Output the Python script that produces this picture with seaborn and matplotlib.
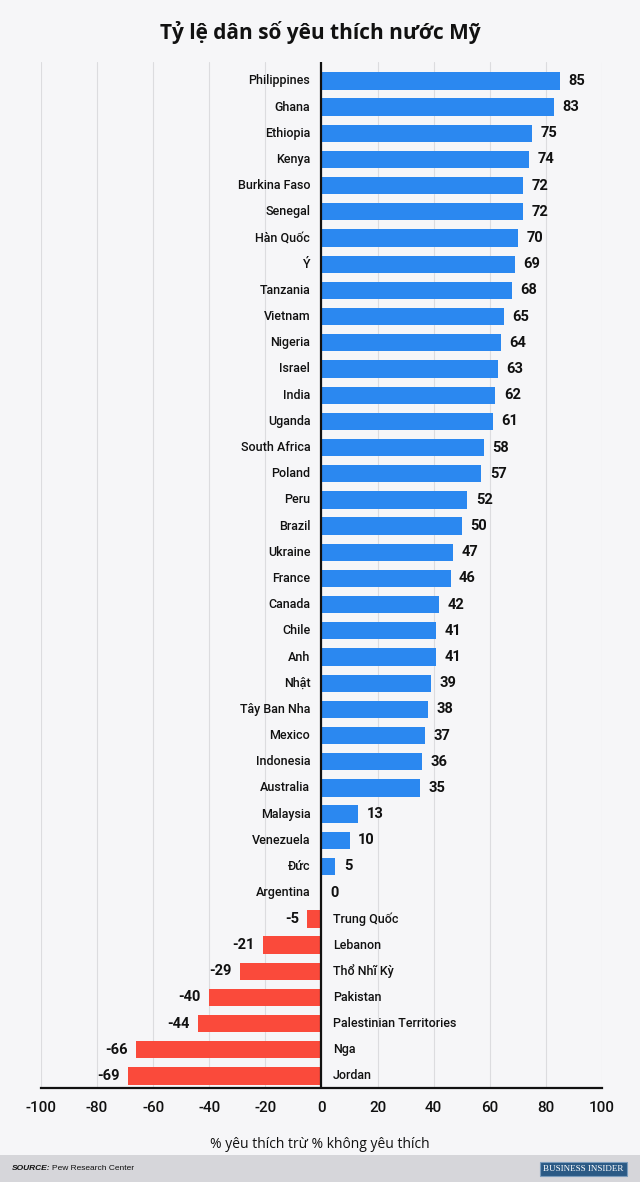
import pandas as pd
import numpy as np
import seaborn as sns
import matplotlib.pyplot as plt
from matplotlib.patches import Rectangle

countries = ['Philippines', 'Ghana', 'Ethiopia', 'Kenya', 'Burkina Faso', 'Senegal', 'Hàn Quốc', 'Ý',
             'Tanzania', 'Vietnam', 'Nigeria', 'Israel', 'India', 'Uganda', 'South Africa', 'Poland',
             'Peru', 'Brazil', 'Ukraine', 'France', 'Canada', 'Chile', 'Anh', 'Nhật', 'Tây Ban Nha',
             'Mexico', 'Indonesia', 'Australia', 'Malaysia', 'Venezuela', 'Đức', 'Argentina',
             'Trung Quốc', 'Lebanon', 'Thổ Nhĩ Kỳ', 'Pakistan', 'Palestinian Territories', 'Nga', 'Jordan']
net_favorable = [85, 83, 75, 74, 72, 72, 70, 69, 68, 65, 64, 63, 62, 61, 58, 57, 52, 50, 47, 46, 42,
                 41, 41, 39, 38, 37, 36, 35, 13, 10, 5, 0, -5, -21, -29, -40, -44, -66, -69]
x_ticks = [-100, -80, -60, -40, -20, 0, 20, 40, 60, 80, 100]

title = 'Tỷ lệ dân số yêu thích nước Mỹ'
x_label = '% yêu thích trừ % không yêu thích'
source = 'Pew Research Center'

BLUE = '#2b88f0'
RED = '#fa4a3b'
BG = '#f6f6f8'

sns.set_theme(style='white')
plt.rcParams['font.family'] = ['Roboto', 'DejaVu Sans']

data = pd.DataFrame({'country': countries, 'value': net_favorable})
data['sign'] = np.where(data['value'] < 0, 'neg', 'pos')

fig = plt.figure(figsize=(6.4, 11.82), dpi=100, facecolor=BG)
ax = fig.add_axes([0.064, 0.0795, 0.8766, 0.868])
ax.set_facecolor(BG)

sns.barplot(data=data, x='value', y='country', hue='sign', palette={'pos': BLUE, 'neg': RED},
            orient='h', width=0.66, saturation=1, linewidth=0, legend=False, ax=ax, zorder=2)

ax.set_xlim(-100, 100)
ax.set_ylim(len(countries) - 1 + 0.46, -0.72)
ax.set_xticks(x_ticks)
ax.set_xticklabels([str(t) for t in x_ticks], fontsize=11, fontweight='medium', color='#111111')
ax.tick_params(axis='x', length=0, pad=9)
ax.set_yticks([])
ax.set_ylabel('')
ax.set_xlabel('')

# light grid behind the bars, black zero line in front
for t in x_ticks:
    if t != 0:
        ax.axvline(t, color='#dcdcdf', lw=0.8, zorder=0)
ax.axvline(0, color='#111111', lw=1.6, zorder=3)
for s in ['top', 'right', 'left']:
    ax.spines[s].set_visible(False)
ax.spines['bottom'].set_color('#111111')
ax.spines['bottom'].set_linewidth(1.6)

for i, (c, v) in enumerate(zip(countries, net_favorable)):
    if v >= 0:
        ax.text(-4, i, c, ha='right', va='center', fontsize=9, fontweight='medium', color='#111111')
        ax.text(v + 3, i, str(v), ha='left', va='center', fontsize=10.5, fontweight='bold', color='#111111')
    else:
        ax.text(4, i, c, ha='left', va='center', fontsize=9, fontweight='medium', color='#111111')
        ax.text(v - 3, i, str(v), ha='right', va='center', fontsize=10.5, fontweight='bold', color='#111111')

fig.text(0.5, 1 - 33 / 1182, title, ha='center', va='center', fontsize=15, fontweight='bold',
         family=['Open Sans', 'DejaVu Sans'], color='#111111')
fig.text(0.5, 1 - 1144 / 1182, x_label, ha='center', va='center', fontsize=10,
         family=['Open Sans', 'DejaVu Sans'], color='#111111')

# footer band
fig.patches.append(Rectangle((0, 0), 1, 27 / 1182, transform=fig.transFigure, facecolor='#d6d6da',
                             edgecolor='none', zorder=0))
fig.text(0.019, 13 / 1182, 'SOURCE:', ha='left', va='center', fontsize=6, fontweight='bold',
         style='italic', family=['Liberation Sans', 'DejaVu Sans'], color='#111111')
fig.text(0.081, 13 / 1182, source, ha='left', va='center', fontsize=6,
         family=['Liberation Sans', 'DejaVu Sans'], color='#111111')
fig.text(0.912, 13 / 1182, 'BUSINESS INSIDER', ha='center', va='center', fontsize=6.5,
         family=['Liberation Serif', 'DejaVu Serif'], color='white',
         bbox=dict(boxstyle='square,pad=0.35', facecolor='#2b5a85', edgecolor='#7a9cbc', lw=0.8))

fig.savefig('out.png', dpi=100, facecolor=BG)
